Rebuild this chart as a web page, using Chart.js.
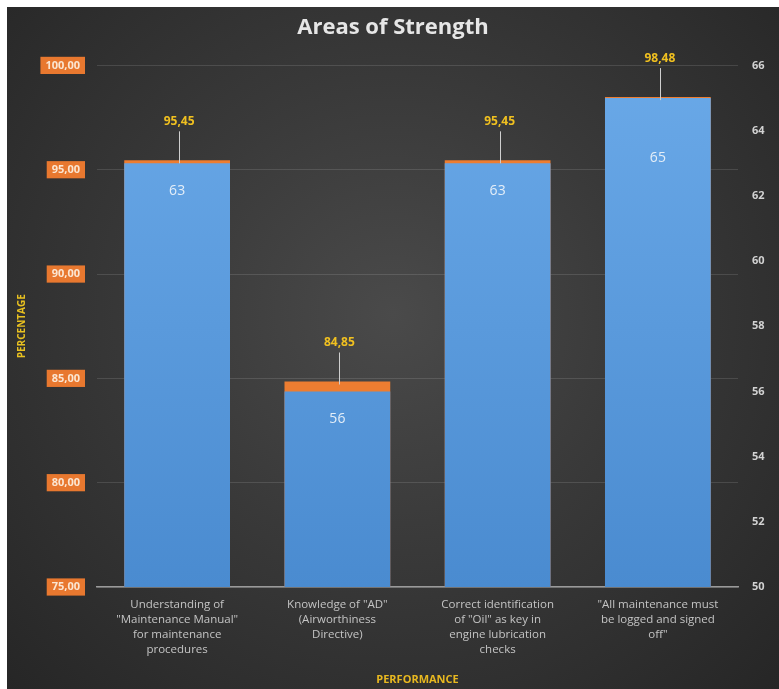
<!DOCTYPE html>
<html>
<head>
<meta charset="utf-8">
<script src="https://cdn.jsdelivr.net/npm/chart.js@4.4.1/dist/chart.umd.min.js"></script>
<style>
  html, body { margin: 0; padding: 0; background: #fff; }
  #wrap {
    position: absolute; left: 7px; top: 7px; width: 772px; height: 682px;
    background: radial-gradient(ellipse at 50% 45%, #4a4a4a 0%, #393939 45%, #262626 100%);
  }
</style>
</head>
<body>
<div id="wrap"><canvas id="myChart"></canvas></div>
<script>
// données
const categories = [
  ['Understanding of', '"Maintenance Manual"', 'for maintenance', 'procedures'],
  ['Knowledge of "AD"', '(Airworthiness', 'Directive)'],
  ['Correct identification', 'of "Oil" as key in', 'engine lubrication', 'checks'],
  ['"All maintenance must', 'be logged and signed', 'off"']
];
const counts = [63, 56, 63, 65];           // axe de droite
const percentages = [95.45, 84.85, 95.45, 98.48]; // axe de gauche
const percentTicks = { min: 75, max: 100, step: 5 };
const countTicks = { min: 50, max: 66, step: 2 };

// décalage des étiquettes "63" sous le haut de la barre
const countLabelOffsets = [28, 28, 28, 60];

const fmt = (v) => v.toFixed(2).replace('.', ',');

const labelsPlugin = {
  id: 'labels',
  afterDatasetsDraw(chart) {
    const c = chart.ctx;
    const blue = chart.getDatasetMeta(0).data;
    const orange = chart.getDatasetMeta(1).data;
    c.save();
    c.textAlign = 'center';
    c.textBaseline = 'middle';
    orange.forEach((bar, i) => {
      const top = Math.min(bar.y, blue[i].y);
      c.strokeStyle = '#cfcfcf';
      c.lineWidth = 1;
      c.beginPath();
      c.moveTo(Math.round(bar.x) + 2.5, top - 29);
      c.lineTo(Math.round(bar.x) + 2.5, top + 3);
      c.stroke();
      c.font = 'bold 12px "Open Sans"';
      c.fillStyle = '#f0c020';
      c.fillText(fmt(percentages[i]), bar.x + 2, top - 39);
    });
    blue.forEach((bar, i) => {
      c.font = '14px "Open Sans"';
      c.fillStyle = '#e4eef8';
      c.fillText(String(counts[i]), bar.x, bar.y + countLabelOffsets[i]);
    });
    c.restore();
  }
};

const ctx = document.getElementById('myChart');

new Chart(ctx, {
  type: 'bar',
  data: {
    labels: categories,
    datasets: [{
      label: 'Count',
      data: counts,
      yAxisID: 'y1',
      backgroundColor: (context) => {
        const area = context.chart.chartArea;
        if (!area) return '#5b9bd5';
        const g = context.chart.ctx.createLinearGradient(0, area.top, 0, area.bottom);
        g.addColorStop(0, '#6aa9e8');
        g.addColorStop(1, '#4a8bd0');
        return g;
      },
      barPercentage: 0.66,
      categoryPercentage: 1
    }, {
      label: 'Percentage',
      data: percentages,
      yAxisID: 'y',
      backgroundColor: '#ed7d31',
      barPercentage: 0.66,
      categoryPercentage: 1
    }]
  },
  options: {
    responsive: true,
    maintainAspectRatio: false,
    animation: false,
    grouped: false,
    layout: { padding: 0 },
    plugins: {
      legend: { display: false },
      tooltip: { enabled: false },
      title: {
        display: true,
        text: 'Areas of Strength',
        color: '#e6e6e6',
        font: { family: 'Open Sans', size: 22, weight: 'bold' },
        padding: { top: 8, bottom: 24 }
      }
    },
    scales: {
      x: {
        grid: { display: false, drawTicks: false },
        border: { display: true, color: '#9a9a9a', width: 1.5 },
        ticks: {
          color: '#c4c4c4',
          font: { family: 'Open Sans', size: 11.5, lineHeight: 1.3 },
          padding: 10,
          maxRotation: 0,
          autoSkip: false
        },
        title: {
          display: true,
          text: 'PERFORMANCE',
          color: '#e8b820',
          font: { family: 'Open Sans', size: 11, weight: 'bold' },
          padding: { top: 0, bottom: 3 }
        },
        afterFit: (s) => { s.height = 102; }
      },
      y: {
        position: 'left',
        min: percentTicks.min,
        max: percentTicks.max,
        grid: { color: 'rgba(255,255,255,0.12)', drawTicks: false },
        border: { display: false },
        ticks: {
          stepSize: percentTicks.step,
          callback: (v) => fmt(v),
          color: '#fbe6d2',
          font: { family: 'Open Sans', size: 11, weight: 'bold' },
          padding: 17,
          showLabelBackdrop: true,
          backdropColor: '#e8782f',
          backdropPadding: { x: 5, y: 2 }
        },
        title: {
          display: true,
          text: 'PERCENTAGE',
          color: '#e8c020',
          font: { family: 'Open Sans', size: 10, weight: 'bold' },
          padding: { top: 9, bottom: 0 }
        },
        afterFit: (s) => { s.width = 90; }
      },
      y1: {
        position: 'right',
        min: countTicks.min,
        max: countTicks.max,
        grid: { display: false, drawTicks: false },
        border: { display: false },
        ticks: {
          stepSize: countTicks.step,
          color: '#d2d2d2',
          font: { family: 'Open Sans', size: 11, weight: 'bold' },
          padding: 14
        },
        afterFit: (s) => { s.width = 41; }
      }
    }
  },
  plugins: [labelsPlugin]
});
</script>
</body>
</html>
